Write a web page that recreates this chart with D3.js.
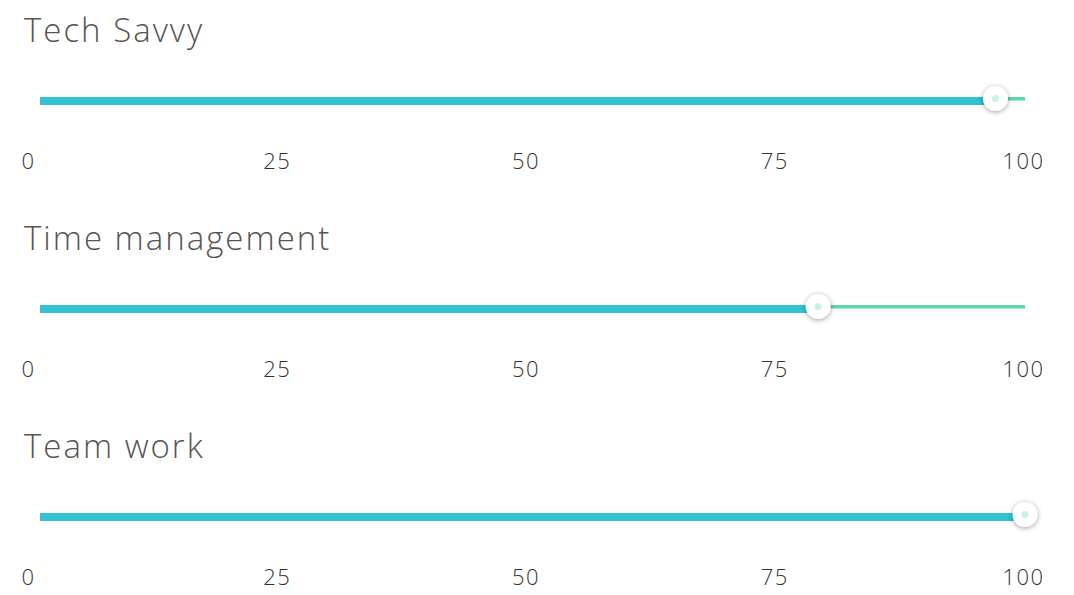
<!DOCTYPE html>
<html>
<head>
<meta charset="utf-8">
<script src="https://cdn.jsdelivr.net/npm/d3@7"></script>
<style>
  body { margin: 0; background: #fff; }
  svg { display: block; }
  .title { font-family: "Open Sans", sans-serif; font-weight: 300; font-size: 33px; letter-spacing: 2px; fill: #555; }
  .tick text { font-family: "Open Sans", sans-serif; font-weight: 300; font-size: 22px; letter-spacing: 1.5px; fill: #333; }
</style>
</head>
<body>
<svg width="1074" height="595"></svg>
<script>
var skills = ['Tech Savvy', 'Time management', 'Team work'];
var levels = [97, 79, 100];
var ticks = [0, 25, 50, 75, 100];

var svg = d3.select('svg');
var rowH = 208;

// shadow for the knob
var defs = svg.append('defs');
var f = defs.append('filter').attr('id', 'shadow')
  .attr('x', '-50%').attr('y', '-50%').attr('width', '200%').attr('height', '200%');
f.append('feDropShadow').attr('dx', 0).attr('dy', 1).attr('stdDeviation', 2.5)
  .attr('flood-color', '#000').attr('flood-opacity', 0.4);

var x = d3.scaleLinear().domain([0, 100]).range([40, 1025]);
var xl = d3.scaleLinear().domain([0, 100]).range([28, 1023]);

skills.forEach(function(name, i){
  var g = svg.append('g').attr('transform', 'translate(0,' + (i * rowH) + ')');

  g.append('text').attr('class', 'title')
    .attr('x', 24).attr('y', 42)
    .text(name);

  // rest of track (thin, green)
  g.append('rect')
    .attr('x', x(levels[i])).attr('y', 97)
    .attr('width', Math.max(0, x(100) - x(levels[i])))
    .attr('height', 3.5)
    .attr('fill', '#5bd5b1');

  // filled part
  g.append('rect')
    .attr('x', x(0)).attr('y', 97)
    .attr('width', x(levels[i]) - x(0))
    .attr('height', 8)
    .attr('fill', '#31c1d3');

  // knob
  g.append('circle')
    .attr('cx', x(levels[i])).attr('cy', 98.5).attr('r', 12.5)
    .attr('fill', '#fff')
    .attr('filter', 'url(#shadow)');
  g.append('circle')
    .attr('cx', x(levels[i])).attr('cy', 98.5).attr('r', 3.5)
    .attr('fill', '#c9f1e6');

  var axis = d3.axisBottom(xl).tickValues(ticks).tickSize(0).tickPadding(0);
  var ag = g.append('g').attr('transform', 'translate(0,149)').call(axis);
  ag.select('.domain').remove();
  ag.selectAll('.tick text').attr('dy', '0.9em');
});
</script>
</body>
</html>
